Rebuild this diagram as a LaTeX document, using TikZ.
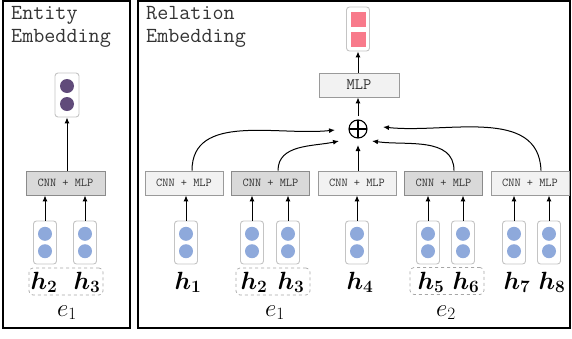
\documentclass[tikz,border=0pt]{standalone}
\usepackage{amsmath}
\usepackage{bm}
\usetikzlibrary{arrows.meta,calc}
\definecolor{dotblue}{HTML}{8EA9DB}
\definecolor{dotpurple}{HTML}{604B7A}
\definecolor{sqpink}{HTML}{F87A8B}
\definecolor{boxlight}{HTML}{F2F2F2}
\definecolor{boxdark}{HTML}{D9D9D9}
\definecolor{boxline}{HTML}{9A9A9A}
\definecolor{vecline}{HTML}{C4C4C4}
\definecolor{txtgray}{HTML}{333333}
\tikzset{
  frame/.style={draw=black, line width=1.4pt},
  title/.style={anchor=base west, inner sep=0pt, text=txtgray, font=\ttfamily\fontsize{21.5}{24}\selectfont},
  lightbox/.style={draw=boxline, fill=boxlight, line width=0.9pt, minimum width=78pt, minimum height=24pt, inner sep=0pt, text=txtgray, font=\ttfamily\fontsize{12}{14}\selectfont},
  darkbox/.style={lightbox, fill=boxdark, draw=boxline!90!black},
  mlpbox/.style={lightbox, minimum width=80pt, font=\ttfamily\fontsize{16}{18}\selectfont},
  vecbox/.style={draw=vecline, fill=white, rounded corners=3pt, line width=0.9pt, minimum width=23pt, minimum height=43pt, inner sep=0pt},
  groupbox/.style={draw=gray!70, dashed, rounded corners=4pt, line width=0.7pt, minimum width=74pt, minimum height=27pt, inner sep=0pt},
  arr/.style={-{Latex[length=6pt,width=5pt]}, line width=1pt, black},
  lab/.style={anchor=base, inner sep=0pt, font=\fontsize{24}{26}\selectfont},
  oplusnode/.style={circle, draw=black, line width=1.1pt, minimum size=18pt, inner sep=0pt,
    path picture={\draw[line width=1.1pt] (path picture bounding box.north) -- (path picture bounding box.south)
      (path picture bounding box.west) -- (path picture bounding box.east);}},
}
\newcommand{\bluevec}[3]{% name, x, y
  \node[vecbox] (#1) at (#2,#3) {};
  \fill[dotblue] ([yshift=8.7pt]#1.center) circle (7pt);
  \fill[dotblue] ([yshift=-8.7pt]#1.center) circle (7pt);
}
\begin{document}
\begin{tikzpicture}[x=1pt,y=-1pt]
\useasboundingbox (0,0) rectangle (572,338);
% frames
\draw[frame] (3,1) rectangle (130,328);
\draw[frame] (138,1) rectangle (570,328);
% titles
\node[title] (t1) at (11,19) {Entity};
\node[title] (t2) at (11,42) {Embedding};
\node[title] (t3) at (146,19) {Relation};
\node[title] (t4) at (146,42) {Embedding};

% ---------- Entity panel ----------
\node[vecbox, minimum width=24pt, minimum height=44pt] (outL) at (67,95) {};
\fill[dotpurple] ([yshift=9pt]outL.center) circle (7pt);
\fill[dotpurple] ([yshift=-9pt]outL.center) circle (7pt);
\node[darkbox, minimum width=79pt] (cnnL) at (65.5,183) {CNN + MLP};
\bluevec{vL2}{45}{242.5}
\bluevec{vL3}{85}{242.5}
\draw[arr] (cnnL.north -| outL.south) -- (outL.south);
\draw[arr] (vL2.north) -- (vL2.north |- cnnL.south);
\draw[arr] (vL3.north) -- (vL3.north |- cnnL.south);
\node[groupbox] (gL) at (66,281.5) {};
\node[lab] (hL2) at (44,289) {$\bm{h}_{\bm{2}}$};
\node[lab] (hL3) at (87,289) {$\bm{h}_{\bm{3}}$};
\node[lab] (eL) at (67,316) {$e_1$};

% ---------- Relation panel ----------
\node[vecbox, minimum width=23pt, minimum height=44pt] (outR) at (358,29) {};
\fill[sqpink] ($(outR.center)+(-7.5,-17)$) rectangle ($(outR.center)+(7.5,-2)$);
\fill[sqpink] ($(outR.center)+(-7.5,2.5)$) rectangle ($(outR.center)+(7.5,17.5)$);
\node[mlpbox] (mlp) at (359,85) {MLP};
\node[oplusnode] (plus) at (358,129) {};
\coordinate (inA) at (335,130);
\coordinate (inB) at (339,141);
\coordinate (inC) at (372,141);
\coordinate (inD) at (383,127);
\coordinate (plustop) at (358,116);
\coordinate (plusbot) at (358,145);

\node[lightbox] (b1) at (184,183) {CNN + MLP};
\node[darkbox]  (b2) at (270.5,183) {CNN + MLP};
\node[lightbox] (b3) at (357,183) {CNN + MLP};
\node[darkbox]  (b4) at (443.5,183) {CNN + MLP};
\node[lightbox] (b5) at (530,183) {CNN + MLP};

\draw[arr] (mlp.north -| outR.south) -- (outR.south);
\draw[arr] (plustop) -- (plustop |- mlp.south);
\draw[arr] (b3.north -| plusbot) -- (plusbot);
\draw[arr] ([xshift=8pt]b1.north) to[out=90,in=186] (inA);
\draw[arr] ([xshift=7.5pt]b2.north) to[out=90,in=192] (inB);
\draw[arr] ([xshift=10.5pt]b4.north) to[out=90,in=-8] (inC);
\draw[arr] ([xshift=11pt]b5.north) to[out=92,in=-6] (inD);

\bluevec{v1}{186}{242.5}
\bluevec{v2}{252}{242.5}
\bluevec{v3}{288}{242.5}
\bluevec{v4}{357}{242.5}
\bluevec{v5}{428}{242.5}
\bluevec{v6}{463}{242.5}
\bluevec{v7}{514}{242.5}
\bluevec{v8}{549}{242.5}
\draw[arr] (v1.north) -- (v1.north |- b1.south);
\draw[arr] (v2.north) -- (v2.north |- b2.south);
\draw[arr] (v3.north) -- (v3.north |- b2.south);
\draw[arr] (v4.north) -- (v4.north |- b3.south);
\draw[arr] (v5.north) -- (v5.north |- b4.south);
\draw[arr] (v6.north) -- (v6.north |- b4.south);
\draw[arr] (v7.north) -- (v7.north |- b5.south);
\draw[arr] (v8.north) -- (v8.north |- b5.south);

\node[groupbox] (g1) at (273,281.5) {};
\node[groupbox] (g2) at (447,281) {};
\node[lab] (h1) at (188,289) {$\bm{h}_{\bm{1}}$};
\node[lab] (h2) at (254,289) {$\bm{h}_{\bm{2}}$};
\node[lab] (h3) at (291,289) {$\bm{h}_{\bm{3}}$};
\node[lab] (h4) at (360,289) {$\bm{h}_{\bm{4}}$};
\node[lab] (h5) at (431,289) {$\bm{h}_{\bm{5}}$};
\node[lab] (h6) at (466,289) {$\bm{h}_{\bm{6}}$};
\node[lab] (h7) at (517,289) {$\bm{h}_{\bm{7}}$};
\node[lab] (h8) at (552,289) {$\bm{h}_{\bm{8}}$};
\node[lab] (e1) at (275,316) {$e_1$};
\node[lab] (e2) at (446,316) {$e_2$};
\end{tikzpicture}
\end{document}
